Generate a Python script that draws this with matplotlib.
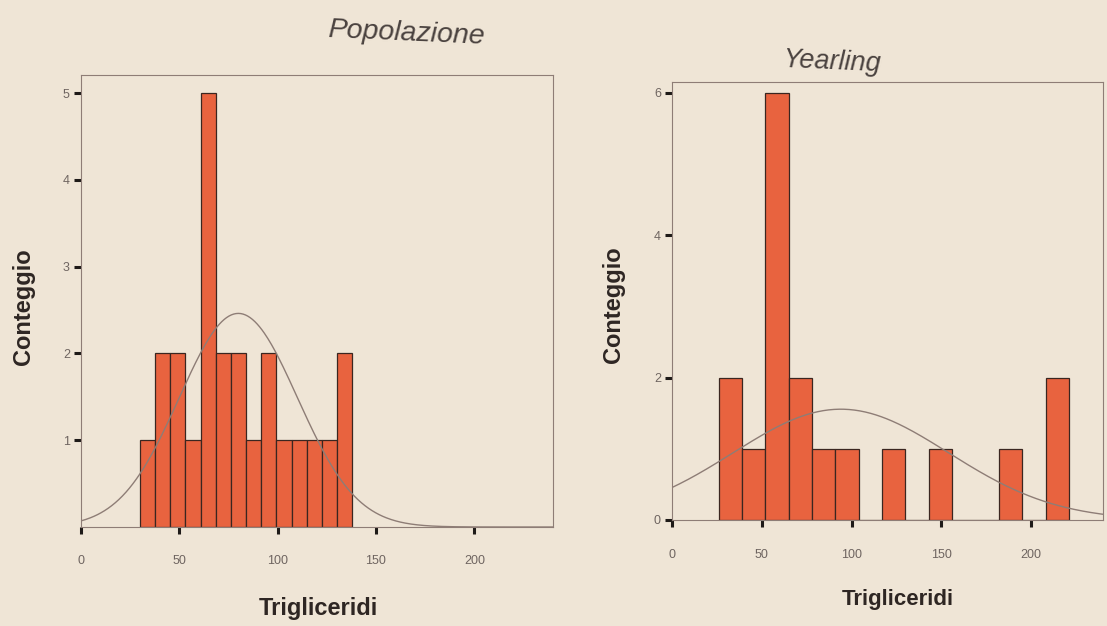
import numpy as np
import matplotlib
matplotlib.use("Agg")
import matplotlib.pyplot as plt

# ---- data ----
pop_edges = [30, 37.7, 45.4, 53.1, 60.9, 68.6, 76.3, 84.0, 91.7, 99.4, 107.1, 114.9, 122.6, 130.3, 138.0]
pop_counts = [1, 2, 2, 1, 5, 2, 2, 1, 2, 1, 1, 1, 1, 2]
pop_mean, pop_sd = 80, 30

yr_edges = [26, 39, 52, 65, 78, 91, 104, 117, 130, 143, 156, 169, 182, 195, 208, 221]
yr_counts = [2, 1, 6, 2, 1, 1, 0, 1, 0, 1, 0, 0, 1, 0, 2]
yr_mean, yr_sd = 94, 60

x_ticks = [0, 50, 100, 150, 200]
pop_yticks = [1, 2, 3, 4, 5]
yr_yticks = [0, 2, 4, 6]

titles = ["Popolazione", "Yearling"]
xlabel = "Trigliceridi"
ylabel = "Conteggio"

BG = "#efe5d6"
BAR = "#e8633f"
EDGE = "#3a2620"
CURVE = "#8e7d76"
FRAME = "#8e7d76"
TXT = "#2e2623"
TICKTXT = "#6e6460"

plt.rcParams['font.family'] = ['Liberation Sans', 'DejaVu Sans']

fig = plt.figure(figsize=(11.07, 6.26), dpi=100, facecolor=BG)

def draw(ax, edges, counts, mean, sd, yticks, ylim, xpad):
    ax.set_facecolor(BG)
    edges = np.asarray(edges, dtype=float)
    widths = np.diff(edges)
    ax.bar(edges[:-1], counts, width=widths, align='edge', color=BAR,
           edgecolor=EDGE, linewidth=0.9, zorder=2)
    n = sum(counts)
    bw = widths.mean()
    xs = np.linspace(0, 240, 400)
    ys = n * bw / (sd * np.sqrt(2 * np.pi)) * np.exp(-(xs - mean) ** 2 / (2 * sd ** 2))
    ax.plot(xs, ys, color=CURVE, lw=1.0, zorder=3)
    ax.set_xlim(0, 240)
    ax.set_ylim(*ylim)
    ax.set_xticks(x_ticks)
    ax.set_yticks(yticks)
    for s in ax.spines.values():
        s.set_color(FRAME)
        s.set_linewidth(0.8)
    ax.tick_params(axis='both', direction='out', length=5, width=2.2,
                   color='#1e1a18', labelcolor=TICKTXT, labelsize=9)
    ax.tick_params(axis='x', pad=xpad)
    ax.tick_params(axis='y', pad=3)

ax1 = fig.add_axes([81 / 1107, 1 - 527 / 626, (553 - 81) / 1107, (527 - 75) / 626])
draw(ax1, pop_edges, pop_counts, pop_mean, pop_sd, pop_yticks, (0, 5.21), 15)

ax2 = fig.add_axes([672 / 1107, 1 - 520 / 626, (1103 - 672) / 1107, (520 - 82) / 626])
draw(ax2, yr_edges, yr_counts, yr_mean, yr_sd, yr_yticks, (0, 6.15), 16)

fig.text(406 / 1107, 1 - 33 / 626, titles[0], fontsize=20.5, style='italic',
         color='#4a423f', ha='center', va='center', rotation=-2.5)
fig.text(832 / 1107, 1 - 62 / 626, titles[1], fontsize=19.5, style='italic',
         color='#4a423f', ha='center', va='center', rotation=-2.5)

fig.text(318 / 1107, 1 - 608 / 626, xlabel, fontsize=17, weight='bold',
         color=TXT, ha='center', va='center')
fig.text(898 / 1107, 1 - 600 / 626, xlabel, fontsize=16, weight='bold',
         color=TXT, ha='center', va='center')
fig.text(24 / 1107, 1 - 307 / 626, ylabel, fontsize=17, weight='bold',
         color=TXT, ha='center', va='center', rotation=90)
fig.text(613 / 1107, 1 - 305 / 626, ylabel, fontsize=17, weight='bold',
         color=TXT, ha='center', va='center', rotation=90)

fig.savefig("out.png", dpi=100, facecolor=BG)
